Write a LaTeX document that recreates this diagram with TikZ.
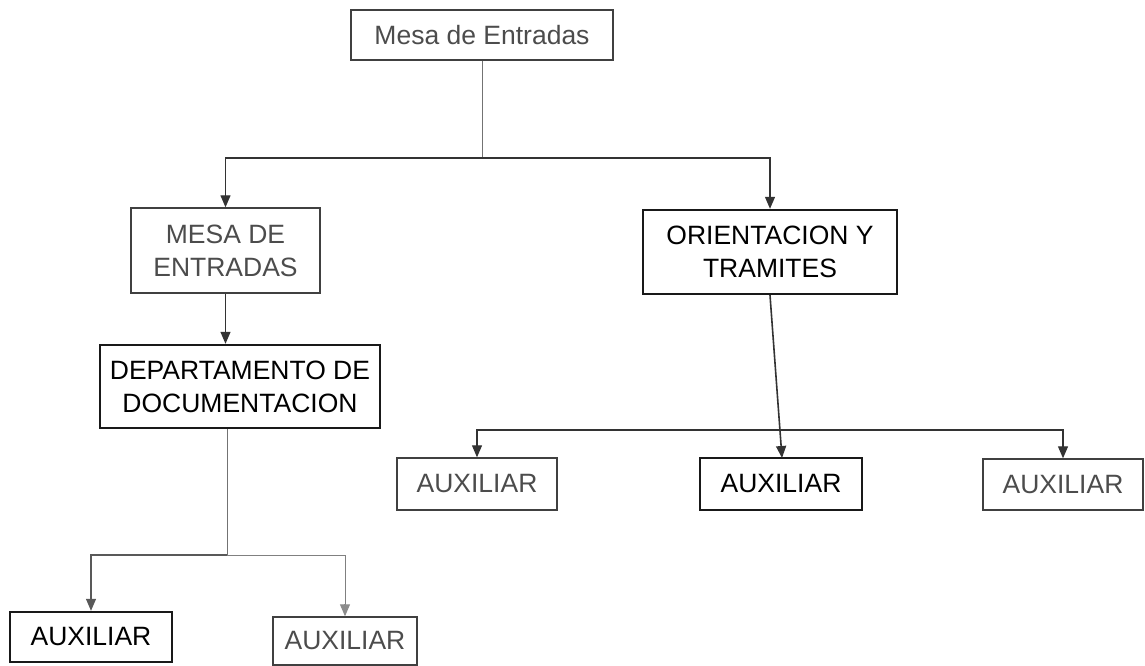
\documentclass[tikz,border=0pt]{standalone}
\usepackage{fontspec}
\setmainfont{Liberation Sans}
\usetikzlibrary{arrows.meta}
\begin{document}
\begin{tikzpicture}[x=1pt,y=-1pt,
  box/.style={draw, inner sep=0pt, align=center, font=\fontsize{26.5}{33}\selectfont},
  darkbox/.style={box, line width=2.4pt, draw=black!90, text=black},
  lightbox/.style={box, line width=1.4pt, draw=black!75, text=black!70},
  conn/.style={line width=1.2pt, draw=black!80},
  thinconn/.style={line width=1pt, draw=black!55},
  arr/.style={conn, -{Triangle[length=12pt,width=10pt]}},
  garr/.style={line width=1.1pt, draw=black!45, -{Triangle[length=12pt,width=10pt]}}
]
\useasboundingbox (0,0) rectangle (1145,666);
\node[lightbox, minimum width=262pt, minimum height=50pt] (top) at (482,35) {Mesa de Entradas};
\node[lightbox, minimum width=189pt, minimum height=85pt] (mesa) at (225.5,250.5) {MESA DE\\ENTRADAS};
\node[darkbox, minimum width=280pt, minimum height=83pt] (depto) at (240,386.5) {DEPARTAMENTO DE\\DOCUMENTACION};
\node[darkbox, minimum width=254pt, minimum height=84pt] (orient) at (770,252) {ORIENTACION Y\\TRAMITES};
\node[lightbox, minimum width=160pt, minimum height=52pt] (aux1) at (477,484) {AUXILIAR};
\node[darkbox, minimum width=162pt, minimum height=52pt] (aux2) at (781,484) {AUXILIAR};
\node[lightbox, minimum width=160pt, minimum height=51pt] (aux3) at (1063,484.5) {AUXILIAR};
\node[darkbox, minimum width=162pt, minimum height=50pt] (auxL) at (91,637) {AUXILIAR};
\node[lightbox, minimum width=144pt, minimum height=48pt] (auxR) at (345,641) {AUXILIAR};

\coordinate (j1) at (482,158);
\coordinate (a2in) at (782,458);
\coordinate (j2) at (227,555);
\coordinate (j3) at (782,430);

\draw[thinconn] (top.south) -- (j1);
\draw[arr] (j1) -| (mesa.north);
\draw[arr] (j1) -| (orient.north);
\draw[arr] (mesa.south) -- (depto.north -| mesa.south);
\draw[thinconn] (depto.south -| j2) -- (j2);
\draw[arr, draw=black!65] (j2) -| (auxL.north);
\draw[thinconn, draw=black!50] (j2) -| ([yshift=12pt]auxR.north);
\draw[garr] ([yshift=12pt]auxR.north) -- (auxR.north);
\draw[arr, line width=1.6pt] (orient.south) -- (a2in);
\draw[arr] (j3) -| (aux1.north);
\draw[arr] (j3) -| (aux3.north);
\end{tikzpicture}
\end{document}
